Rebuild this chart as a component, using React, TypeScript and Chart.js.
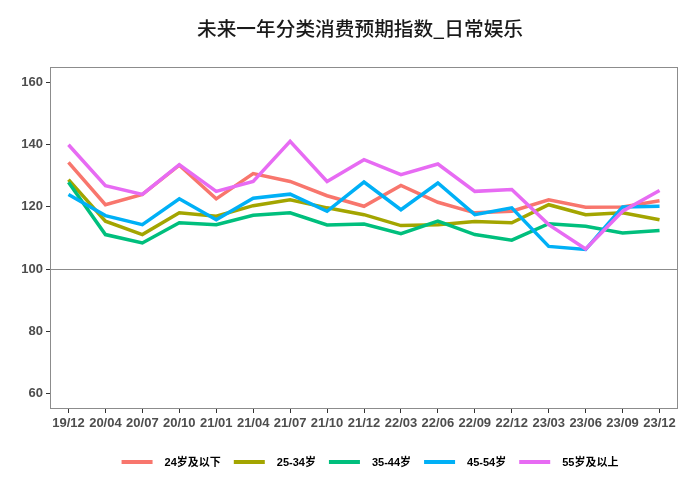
import React, { useEffect, useRef } from "react";
import { Chart, registerables } from "chart.js";

Chart.register(...registerables);

const titleText = "未来一年分类消费预期指数_日常娱乐";
const categories = ["19/12", "20/04", "20/07", "20/10", "21/01", "21/04", "21/07", "21/10", "21/12", "22/03", "22/06", "22/09", "22/12", "23/03", "23/06", "23/09", "23/12"];
const seriesNames = ["24岁及以下", "25-34岁", "35-44岁", "45-54岁", "55岁及以上"];
const seriesColors = ["#F8766D", "#A3A500", "#00BF7D", "#00B0F6", "#E76BF3"];
const age24 = [134.3, 120.7, 124, 133.4, 122.6, 130.7, 128.2, 123.6, 120.2, 126.9, 121.5, 118.1, 118.6, 122.3, 119.9, 120, 122];
const age25_34 = [128.8, 115.4, 111.1, 118.1, 117, 120.4, 122.3, 119.7, 117.5, 114, 114.3, 115.3, 114.9, 120.7, 117.5, 118.1, 115.9];
const age35_44 = [127.9, 111.1, 108.4, 114.9, 114.3, 117.3, 118.1, 114.2, 114.5, 111.4, 115.4, 111.1, 109.3, 114.6, 113.8, 111.6, 112.4];
const age45_54 = [124, 117.2, 114.3, 122.6, 115.9, 122.8, 124.1, 118.6, 128, 119.1, 127.7, 117.5, 119.7, 107.3, 106.3, 120, 120.2];
const age55 = [140, 126.8, 124, 133.6, 125, 128.2, 141.1, 128.2, 135.2, 130.4, 133.8, 125, 125.6, 114.3, 106.5, 118.6, 125.3];
const seriesValues = [age24, age25_34, age35_44, age45_54, age55];
const yTicks = [60, 80, 100, 120, 140, 160];
const refLineValue = 100;

const panelPlugin = {
  id: "panelDecor",
  beforeDatasetsDraw(chart: any) {
    const { ctx, chartArea, scales } = chart;
    const y = scales.y.getPixelForValue(refLineValue);
    ctx.save();
    ctx.strokeStyle = "#8C8C8C";
    ctx.lineWidth = 1;
    ctx.beginPath();
    ctx.moveTo(chartArea.left, Math.round(y) + 0.5);
    ctx.lineTo(chartArea.right, Math.round(y) + 0.5);
    ctx.stroke();
    ctx.restore();
  },
  afterDraw(chart: any) {
    const { ctx, chartArea } = chart;
    ctx.save();
    ctx.strokeStyle = "#8C8C8C";
    ctx.lineWidth = 1;
    ctx.strokeRect(
      Math.round(chartArea.left) + 0.5,
      Math.round(chartArea.top) + 0.5,
      Math.round(chartArea.right - chartArea.left) - 1,
      Math.round(chartArea.bottom - chartArea.top) - 1
    );
    // title
    ctx.font = "500 19.7px 'Noto Sans CJK SC'";
    ctx.fillStyle = "#1A1A1A";
    ctx.textAlign = "center";
    ctx.textBaseline = "middle";
    ctx.fillText(titleText, 360, 29);
    // legend
    ctx.font = "bold 11px 'Liberation Sans', Arial, 'Noto Sans CJK SC'";
    const symW = 31;
    const gap1 = 12;
    const gap2 = 13;
    const widths = seriesNames.map((n) => ctx.measureText(n).width);
    let total = 0;
    widths.forEach((w, i) => {
      total += symW + gap1 + w + (i < widths.length - 1 ? gap2 : 0);
    });
    let x = 370 - total / 2;
    const ly = 462;
    ctx.textBaseline = "middle";
    ctx.textAlign = "left";
    seriesNames.forEach((n, i) => {
      ctx.strokeStyle = seriesColors[i];
      ctx.lineWidth = 4;
      ctx.beginPath();
      ctx.moveTo(x, ly);
      ctx.lineTo(x + symW, ly);
      ctx.stroke();
      ctx.fillStyle = "#000000";
      ctx.fillText(n, x + symW + gap1, ly + 0.5);
      x += symW + gap1 + widths[i] + gap2;
    });
    ctx.restore();
  },
};

export default function App() {
  const ref = useRef<HTMLCanvasElement | null>(null);
  useEffect(() => {
    document.body.style.margin = "0";
    if (!ref.current) return;
    const chart = new Chart(ref.current, {
      type: "line",
      data: {
        labels: categories,
        datasets: seriesNames.map((name, i) => ({
          label: name,
          data: seriesValues[i],
          borderColor: seriesColors[i],
          backgroundColor: seriesColors[i],
          borderWidth: 3.5,
          pointRadius: 0,
          tension: 0,
          fill: false,
          order: seriesNames.length - i,
        })),
      },
      options: {
        responsive: false,
        animation: false,
        layout: { padding: { left: 0, right: 22, top: 67, bottom: 61 } },
        plugins: {
          legend: { display: false },
          tooltip: { enabled: false },
          title: { display: false },
        },
        scales: {
          x: {
            type: "category",
            offset: true,
            grid: { display: true, drawOnChartArea: false, drawTicks: true, tickLength: 4, color: "#333333", offset: false },
            border: { display: false },
            ticks: {
              color: "#4D4D4D",
              font: { family: "'Liberation Sans', Arial", size: 13, weight: "bold" },
              padding: 3,
              maxRotation: 0,
              minRotation: 0,
              autoSkip: false,
            },
            afterFit: (s: any) => {
              s.height = 30;
            },
          },
          y: {
            type: "linear",
            min: 55,
            max: 165,
            grid: { display: true, drawOnChartArea: false, drawTicks: true, tickLength: 4, color: "#333333" },
            border: { display: false },
            ticks: {
              color: "#4D4D4D",
              font: { family: "'Liberation Sans', Arial", size: 13, weight: "bold" },
              padding: 3,
            },
            afterBuildTicks: (s: any) => {
              s.ticks = yTicks.map((v) => ({ value: v }));
            },
            afterFit: (s: any) => {
              s.width = 50;
            },
          },
        },
      },
      plugins: [panelPlugin],
    });
    return () => chart.destroy();
  }, []);
  return (
    <div style={{ width: 700, height: 500 }}>
      <canvas ref={ref} width={700} height={500} />
    </div>
  );
}
